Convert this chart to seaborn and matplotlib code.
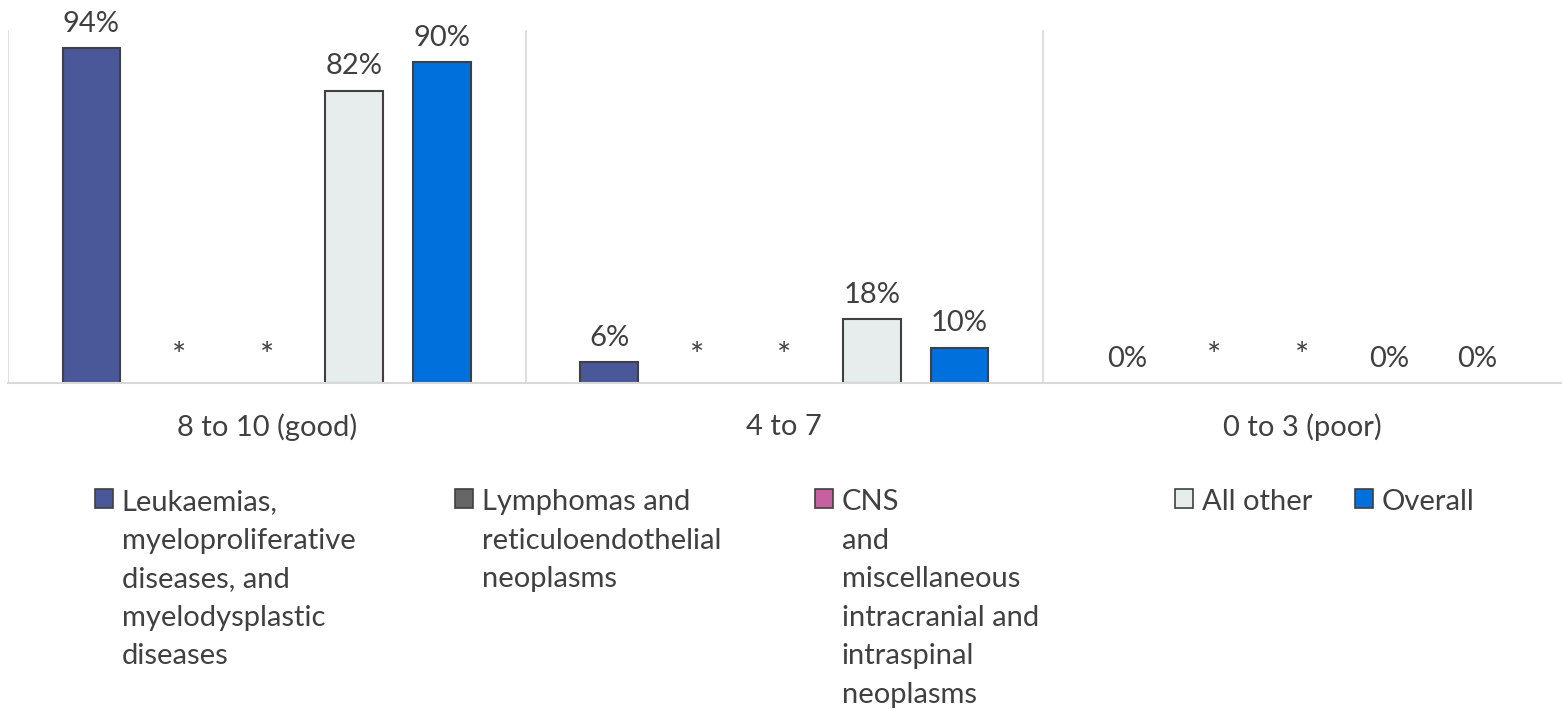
import pandas as pd
import numpy as np
import matplotlib
matplotlib.use("Agg")
import matplotlib.pyplot as plt
import matplotlib.patches as mpatches
import seaborn as sns

# scores on the 0-10 scale
categories = ["8 to 10 (good)", "4 to 7", "0 to 3 (poor)"]
series = [
    "Leukaemias,\nmyeloproliferative\ndiseases, and\nmyelodysplastic\ndiseases",
    "Lymphomas and\nreticuloendothelial\nneoplasms",
    "CNS\nand\nmiscellaneous\nintracranial and\nintraspinal\nneoplasms",
    "All other",
    "Overall",
]
# None = suppressed (shown as *)
leukaemias = [94, 6, 0]
lymphomas = [None, None, None]
cns = [None, None, None]
all_other = [82, 18, 0]
overall = [90, 10, 0]
colors = ["#4A5899", "#666666", "#C760A0", "#E7ECEC", "#0070DD"]

rows = []
for name, vals in zip(series, [leukaemias, lymphomas, cns, all_other, overall]):
    for cat, v in zip(categories, vals):
        rows.append({"category": cat, "series": name, "value": v})
df = pd.DataFrame(rows)
df["plot_value"] = df["value"].fillna(0).astype(float)

plt.rcParams['font.family'] = ['Lato', 'DejaVu Sans']
fs = 21
fig = plt.figure(figsize=(15.64, 7.11), dpi=100)
ax = fig.add_axes([0.005, 0.461, 0.993, 0.497])

sns.barplot(data=df, x="category", y="plot_value", hue="series",
            order=categories, hue_order=series, palette=colors, saturation=1,
            width=0.846, gap=0.34, edgecolor="#404040", linewidth=1.5,
            legend=False, ax=ax, errorbar=None)

for name, cont in zip(series, ax.containers):
    sub = df[df["series"] == name].set_index("category").loc[categories]
    labels = ["*" if pd.isna(v) else f"{v:.0f}%" for v in sub["value"]]
    for bar, v in zip(cont, sub["plot_value"]):
        if v == 0:
            bar.set_linewidth(0)
    txts = ax.bar_label(cont, labels=labels, padding=8, fontsize=fs, color="#404040")
    for t in txts:
        if t.get_text() == "*":
            t.set_fontsize(fs + 3)

ax.set_ylim(0, 99)
ax.set_xlim(-0.5, 2.5)
ax.set_xlabel("")
ax.set_ylabel("")
ax.set_yticks([])
ax.tick_params(axis="x", length=0, pad=22, labelsize=fs, labelcolor="#404040")
for s in ["top", "right", "left"]:
    ax.spines[s].set_visible(False)
ax.spines["bottom"].set_color("#D9D9D9")
ax.spines["bottom"].set_linewidth(1.5)
for xv in [-0.5, 0.5, 1.5]:
    ax.axvline(xv, color="#D9D9D9", lw=1.2, zorder=0)

legend_x = [95, 455, 815, 1175, 1355]
for name, col, lx in zip(series, colors, legend_x):
    h = mpatches.Patch(facecolor=col, edgecolor="#404040", linewidth=1.2)
    leg = fig.legend([h], [name], loc="upper left",
                     bbox_to_anchor=(lx / 1564, 1 - 489 / 711),
                     frameon=False, fontsize=fs, handlelength=0.62,
                     handleheight=0.62, handletextpad=0.3, borderpad=0,
                     borderaxespad=0)
    for t in leg.get_texts():
        t.set_color("#404040")
        t.set_linespacing(1.6)
    # put the square next to the first line, not the middle of the block
    for col_box in leg._legend_handle_box.get_children():
        for item in col_box.get_children():
            item.align = "top"

fig.savefig("out.png", dpi=100)
